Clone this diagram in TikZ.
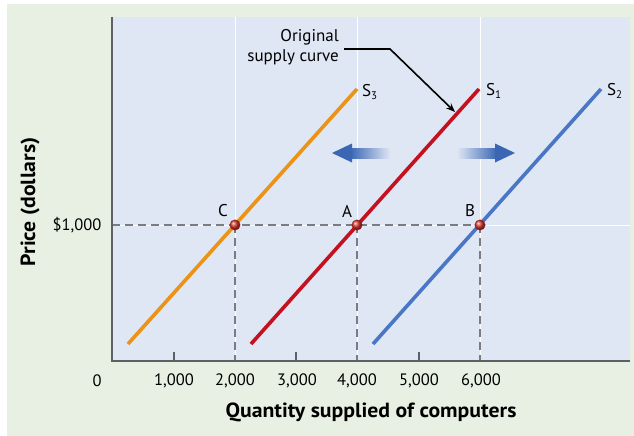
\documentclass[tikz,border=0pt]{standalone}
\usepackage{fontspec}
\setmainfont{PT Sans}
\usetikzlibrary{arrows.meta}
\definecolor{bggreen}{HTML}{E8F0E3}
\definecolor{plotbg}{HTML}{DFE6F4}
\definecolor{axisgray}{HTML}{5E6066}
\definecolor{dashgray}{HTML}{7A7C80}
\definecolor{sorange}{HTML}{EC9214}
\definecolor{sred}{HTML}{C4101F}
\definecolor{sblue}{HTML}{4A76C6}
\definecolor{arrblue}{HTML}{3A66B4}
\definecolor{dotred}{HTML}{D8342A}
\tikzset{
  curve/.style={line width=3.6pt},
  gridw/.style={white, line width=1pt},
  dashln/.style={dashgray, line width=1.3pt, dash pattern=on 8pt off 5pt},
  dot/.style={circle, inner sep=0pt, minimum size=10.5pt, ball color=dotred, draw=dotred!70!black, line width=0.3pt},
  tick/.style={font=\fontsize{16.5}{18}\selectfont},
  ptlab/.style={font=\fontsize{17}{19}\selectfont},
  slab/.style={font=\fontsize{17}{19}\selectfont, anchor=west, inner sep=0pt},
  axtitle/.style={font=\bfseries\fontsize{20.5}{22}\selectfont},
}
\newcommand{\sub}[1]{\raisebox{-0.3ex}{\fontsize{11}{12}\selectfont #1}}
\begin{document}
\begin{tikzpicture}[x=1pt,y=-1pt]
\useasboundingbox (0,0) rectangle (634,436);
\fill[white] (0,0) rectangle (634,436);
\fill[bggreen] (7,4) rectangle (634,436);
\fill[plotbg] (112,17) rectangle (630,361);
% white grid lines
\draw[gridw] (235,17) -- (235,361);
\draw[gridw] (357,17) -- (357,361);
\draw[gridw] (480,17) -- (480,361);
\draw[gridw] (112,225) -- (630,225);
% key points
\coordinate (yl) at (112,225);
\coordinate (xC) at (235,361);
\coordinate (xA) at (357,361);
\coordinate (xB) at (480,361);
% dashed guides
\draw[dashln] (yl) -- (480,225);
\draw[dashln] (235,225) -- (xC);
\draw[dashln] (357,225) -- (xA);
\draw[dashln] (480,225) -- (xB);
% axes
\draw[axisgray, line width=1.6pt] (112,17) -- (112,361) -- (630,361);
\foreach \x in {174,296,419} \draw[axisgray, line width=1.3pt] (\x,361) -- (\x,352);
% supply curves
\coordinate (s3lo) at (128,344);
\coordinate (s3hi) at (357,89);
\coordinate (s1lo) at (251,344);
\coordinate (s1hi) at (479,89);
\coordinate (s2lo) at (373,344);
\coordinate (s2hi) at (601,89);
\draw[curve, sorange] (s3lo) -- (s3hi);
\draw[curve, sred] (s1lo) -- (s1hi);
\draw[curve, sblue] (s2lo) -- (s2hi);
\node[slab] (S3) at (362,92) {S\sub{3}};
\node[slab] (S1) at (486,91) {S\sub{1}};
\node[slab] (S2) at (607,91) {S\sub{2}};
% points
\node[dot] (C) at (235,225) {};
\node[dot] (A) at (357,225) {};
\node[dot] (B) at (480,225) {};
\node[ptlab] (Cl) at (223,211) {C};
\node[ptlab] (Al) at (347,211) {A};
\node[ptlab] (Bl) at (470,211) {B};
% shift arrows
\shade[left color=arrblue, right color=plotbg] (350,148) rectangle (390,158);
\fill[arrblue] (332,153) -- (352,143.5) -- (352,162.5) -- cycle;
\shade[left color=plotbg, right color=arrblue] (457,148) rectangle (497,158);
\fill[arrblue] (515,153) -- (495,143.5) -- (495,162.5) -- cycle;
% original supply curve label
\node[font=\fontsize{17}{20}\selectfont, align=right, anchor=east, inner sep=0pt] (orig) at (339,47) {Original\\supply curve};
\coordinate (lstart) at (344,49);
\coordinate (lbend) at (390,49);
\coordinate (ltip) at (455,112);
\draw[line width=1.6pt, -{Stealth[length=9pt,width=7pt]}] (lstart) -- (lbend) -- (ltip);
% tick labels
\node[tick] (t0) at (97,381) {0};
\node[tick] (t1) at (174,381) {1,000};
\node[tick] (t2) at (235,381) {2,000};
\node[tick] (t3) at (297,381) {3,000};
\node[tick] (t4) at (357,381) {4,000};
\node[tick] (t5) at (419,381) {5,000};
\node[tick] (t6) at (481,381) {6,000};
\node[font=\fontsize{16.5}{18}\selectfont] (p1) at (77,225) {\$1,000};
% axis titles
\node[axtitle] (xt) at (371,412) {\scalebox{1.06}[1]{Quantity supplied of computers}};
\node[axtitle, rotate=90] (yt) at (30,202) {\scalebox{1.06}[1]{Price (dollars)}};
\end{tikzpicture}
\end{document}
